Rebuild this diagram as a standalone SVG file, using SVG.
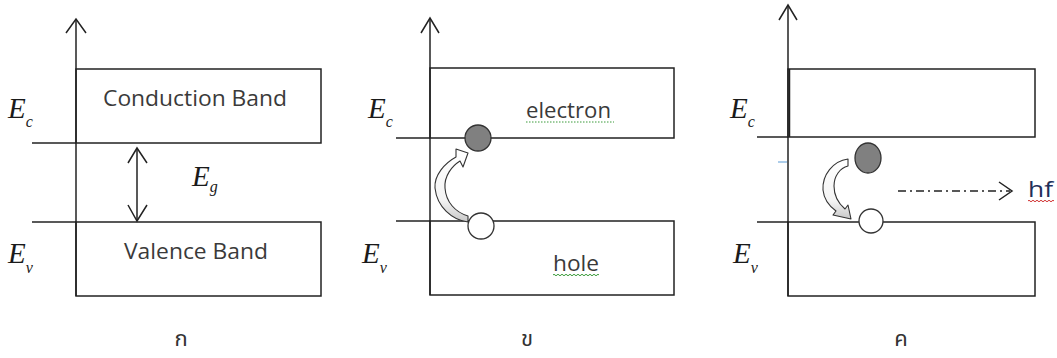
<svg xmlns="http://www.w3.org/2000/svg" width="1057" height="358" viewBox="0 0 1057 358">
<style>
.ln{stroke:#222;stroke-width:1.5;fill:none}
.box{stroke:#222;stroke-width:1.5;fill:#fff}
.lbl{font-family:"Open Sans","DejaVu Sans",sans-serif;font-size:21px;fill:#3a3a3a}
.E{font-family:"Liberation Serif",serif;font-style:italic;font-size:29px;fill:#1a1a1a}
.sub{font-size:16px}
.th{font-family:"Noto Sans Thai","Noto Sans","DejaVu Sans",sans-serif;font-size:22px;fill:#333;text-anchor:middle}
.el{fill:#808080;stroke:#333;stroke-width:1.3}
.ho{fill:#fff;stroke:#333;stroke-width:1.3}
.blk{fill:url(#bg);stroke:#333;stroke-width:1.1;stroke-linejoin:round}
.grn{stroke:#3a9a3a;stroke-width:1;fill:none}
</style>
<defs>
<linearGradient id="bg" x1="0" y1="0" x2="0" y2="1">
<stop offset="0" stop-color="#fff"/>
<stop offset="0.7" stop-color="#f4f4f4"/>
<stop offset="1" stop-color="#c8c8c8"/>
</linearGradient>
</defs>

<g id="panel-a">
<rect class="box" x="76" y="69" width="245" height="74"/>
<rect class="box" x="76" y="222" width="245" height="74"/>
<line class="ln" x1="32" y1="143" x2="76" y2="143"/>
<line class="ln" x1="32" y1="222" x2="76" y2="222"/>
<line class="ln" x1="76" y1="19" x2="76" y2="296"/>
<polyline class="ln" points="66,33 76,19 86,33"/>
<g id="gap-arrow">
<line class="ln" x1="137" y1="148" x2="137" y2="221"/>
<polyline class="ln" points="128,163 137,148 147,163"/>
<polyline class="ln" points="128,205 137,221 147,205"/>
</g>
<text class="lbl" x="103" y="106" textLength="184" lengthAdjust="spacingAndGlyphs">Conduction Band</text>
<text class="lbl" x="124" y="259" textLength="144" lengthAdjust="spacingAndGlyphs">Valence Band</text>
<text class="E" x="8" y="118">E<tspan class="sub" dy="9">c</tspan></text>
<text class="E" x="8" y="263">E<tspan class="sub" dy="10">v</tspan></text>
<text class="E" x="192" y="186">E<tspan class="sub" dy="6">g</tspan></text>
<text class="th" x="181" y="346">ก</text>
</g>

<g id="panel-b">
<rect class="box" x="430" y="68" width="244" height="70"/>
<rect class="box" x="430" y="221" width="244" height="74"/>
<line class="ln" x1="396" y1="138" x2="430" y2="138"/>
<line class="ln" x1="396" y1="221" x2="430" y2="221"/>
<line class="ln" x1="430" y1="18" x2="430" y2="295"/>
<polyline class="ln" points="421,33 430,18 439,33"/>
<text class="lbl" x="526" y="118" textLength="85" lengthAdjust="spacingAndGlyphs">electron</text>
<path class="grn" d="M526,122 H614" stroke-dasharray="1.5,1.5"/>
<text class="lbl" x="553" y="271" textLength="46" lengthAdjust="spacingAndGlyphs">hole</text>
<path class="grn" d="M553,275 q1,-1.5 2,0 t2,0 t2,0 t2,0 t2,0 t2,0 t2,0 t2,0 t2,0 t2,0 t2,0 t2,0 t2,0 t2,0 t2,0 t2,0 t2,0 t2,0 t2,0 t2,0 t2,0 t2,0 t2,0"/>
<text class="E" x="368" y="118">E<tspan class="sub" dy="9">c</tspan></text>
<text class="E" x="362" y="263">E<tspan class="sub" dy="10">v</tspan></text>
<path class="blk" d="M468,222 C452,220 437,207 435,188 C434,175 445,163 456,157 L456,149 L468,153 L463,167 L460,161 C452,166 444,176 445,188 C446,202 455,212 468,216 Z"/>
<circle class="el" cx="478" cy="138" r="13"/>
<circle class="ho" cx="481" cy="226" r="13"/>
<text class="th" x="527" y="346">ข</text>
</g>

<g id="panel-c">
<rect class="box" x="788" y="69" width="247" height="68"/>
<rect class="box" x="788" y="222" width="247" height="74"/>
<line class="ln" x1="757" y1="137" x2="788" y2="137"/>
<line class="ln" x1="757" y1="222" x2="788" y2="222"/>
<line class="ln" x1="788" y1="5" x2="788" y2="296"/>
<line x1="789.5" y1="69" x2="789.5" y2="137" stroke="#222" stroke-width="1.5"/>
<polyline class="ln" points="779,20 788,5 797,20"/>
<line x1="778" y1="162" x2="787" y2="162" stroke="#5b9bd5" stroke-width="1"/>
<text class="E" x="730" y="118">E<tspan class="sub" dy="9">c</tspan></text>
<text class="E" x="733" y="263">E<tspan class="sub" dy="10">v</tspan></text>
<path class="blk" d="M848,159 C833,161 822,175 823,190 C824,200 829,206 836,211 L833,215 L851,219 L848,205 L845,209 C838,203 834,196 834,186 C834,176 840,168 848,166 Z"/>
<ellipse class="el" cx="868" cy="158" rx="13" ry="15"/>
<circle class="ho" cx="871" cy="221" r="12"/>
<line class="ln" x1="898" y1="191" x2="1010" y2="191" stroke-dasharray="8,4,2,4"/>
<polyline class="ln" points="999,182 1012,191 999,200"/>
<text x="1028" y="197" font-family="Open Sans, DejaVu Sans, sans-serif" font-size="22" fill="#1f2f5a" textLength="25" lengthAdjust="spacingAndGlyphs">hf</text>
<path d="M1028,201 q1,-1.5 2,0 t2,0 t2,0 t2,0 t2,0 t2,0 t2,0 t2,0 t2,0 t2,0 t2,0 t2,0 t2,0" stroke="#d03030" stroke-width="1" fill="none"/>
<text class="th" x="901" y="346">ค</text>
</g>
</svg>
